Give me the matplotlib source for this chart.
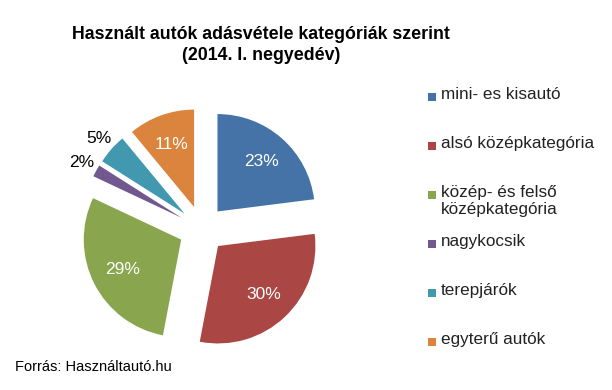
import matplotlib
matplotlib.use("Agg")
from matplotlib import pyplot as plt
import matplotlib.patches as patches
import numpy as np

# data
categories = ["mini- es kisautó", "alsó középkategória", "közép- és felső\nközépkategória",
              "nagykocsik", "terepjárók", "egyterű autók"]
shares = [23, 30, 29, 2, 5, 11]
colors = ["#4572A7", "#AA4643", "#89A54E", "#71588F", "#4198AF", "#DB843D"]

title = "Használt autók adásvétele kategóriák szerint\n(2014. I. negyedév)"
source = "Forrás: Használtautó.hu"

plt.rcParams['font.family'] = ['Liberation Sans', 'DejaVu Sans']

W, H = 612, 390
fig = plt.figure(figsize=(W / 100, H / 100), dpi=100)

# pie axes: centre at (202, 229) px, radius 1 ~ 97 px
cx, cy, half = 202, 229, 150
ax = fig.add_axes([(cx - half) / W, (H - cy - half) / H, 2 * half / W, 2 * half / H])

wedges, _ = ax.pie(shares, colors=colors, startangle=90, counterclock=False,
                   explode=[0.24] * len(shares), radius=1.0,
                   wedgeprops=dict(linewidth=0))
ax.set_xlim(-1.54, 1.54)
ax.set_ylim(-1.54, 1.54)
ax.axis("off")

for w, val in zip(wedges, shares):
    ang = np.deg2rad((w.theta1 + w.theta2) / 2)
    x0, y0 = w.center
    if val >= 10:
        d, col = 0.68, "white"
    else:
        d, col = 1.17, "black"
    ax.text(x0 + d * np.cos(ang), y0 + d * np.sin(ang), f"{val}%",
            ha="center", va="center", fontsize=12.5, color=col)

fig.text(261 / W, 1 - 26 / H, title, ha="center", va="top", fontsize=12.75,
         fontweight="bold", linespacing=1.32)

# legend
for i, (lab, col) in enumerate(zip(categories, colors)):
    ytop = 97 + 49 * i
    fig.patches.append(patches.Rectangle((428 / W, 1 - (ytop + 4) / H), 8 / W, 8 / H,
                                         facecolor=col, edgecolor="none",
                                         transform=fig.transFigure))
    fig.text(441 / W, 1 - (ytop - 10) / H, lab, ha="left", va="top", fontsize=12.3,
             linespacing=1.2, color="#222222")

fig.text(15 / W, 1 - 367 / H, source, ha="left", va="center", fontsize=10.5)

fig.savefig("out.png", dpi=100)
